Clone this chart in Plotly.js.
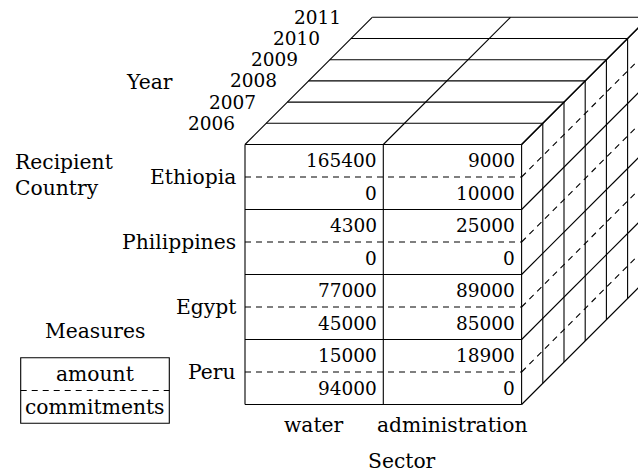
<!DOCTYPE html>
<html><head><meta charset="utf-8">
<script src="https://cdn.plot.ly/plotly-3.0.1.min.js"></script>
<style>html,body{margin:0;padding:0;background:#fff}</style>
</head><body><div id="chart" style="width:638px;height:472px"></div>
<script>
// ---- data ----
const sectors = ['water', 'administration'];
const countries = ['Ethiopia', 'Philippines', 'Egypt', 'Peru'];
const years = ['2006', '2007', '2008', '2009', '2010', '2011'];
const measures = ['amount', 'commitments'];
// front slice (2006) values, one entry per country
const amountWater = [165400, 4300, 77000, 15000];
const amountAdmin = [9000, 25000, 89000, 18900];
const commitmentsWater = [0, 0, 45000, 94000];
const commitmentsAdmin = [10000, 0, 85000, 0];

// ---- layout constants (pixels) ----
const W = 638, H = 472;
const X0 = 245, Y0 = 144.5;     // front top-left corner
const CW = 138.3, RH = 65;      // column width, row height
const DEPTH = 21.2;             // oblique offset per year slice
const DX = DEPTH / CW, DY = -DEPTH / RH;
const FONT = 'DejaVu Serif';
const FS_NUM = 18.5, FS_TXT = 20.3;

const nC = sectors.length, nR = countries.length, nD = years.length;
const P = (c, r, d) => [c + d * DX, r + d * DY];
const pxX = px => (px - X0) / CW;
const pxY = py => (py - Y0) / RH;

function addSeg(arr, a, b) {
  arr.x.push(a[0], b[0], null);
  arr.y.push(a[1], b[1], null);
}
const solid = {x: [], y: []}, dashed = {x: [], y: []};
// front face
for (let r = 0; r <= nR; r++) addSeg(solid, P(0, r, 0), P(nC, r, 0));
for (let c = 0; c <= nC; c++) addSeg(solid, P(c, 0, 0), P(c, nR, 0));
for (let r = 0; r < nR; r++) addSeg(dashed, P(0, r + 0.5, 0), P(nC, r + 0.5, 0));
// top face
for (let d = 1; d <= nD; d++) addSeg(solid, P(0, 0, d), P(nC, 0, d));
for (let c = 0; c <= nC; c++) addSeg(solid, P(c, 0, 0), P(c, 0, nD));
// right face
for (let d = 1; d <= nD; d++) addSeg(solid, P(nC, 0, d), P(nC, nR, d));
for (let r = 0; r <= nR; r++) addSeg(solid, P(nC, r, 0), P(nC, r, nD));
for (let r = 0; r < nR; r++) addSeg(dashed, P(nC, r + 0.5, 0), P(nC, r + 0.5, nD));

const traces = [
  {type: 'scatter', mode: 'lines', x: solid.x, y: solid.y, line: {color: '#000', width: 1.1}, hoverinfo: 'skip'},
  {type: 'scatter', mode: 'lines', x: dashed.x, y: dashed.y, line: {color: '#000', width: 1.1, dash: '6px,5px'}, hoverinfo: 'skip'}
];

const ann = [];
const txt = (x, y, text, xanchor, xshift, yshift, size) => ann.push({
  x, y, text, xref: 'x', yref: 'y', showarrow: false, xanchor: xanchor || 'center', yanchor: 'middle',
  xshift: xshift || 0, yshift: yshift || 0, font: {family: FONT, size: size || FS_TXT, color: '#000'}
});

// cell values (front slice)
const valueCols = [[amountWater, commitmentsWater], [amountAdmin, commitmentsAdmin]];
valueCols.forEach((mv, c) => {
  mv.forEach((vals, m) => {
    vals.forEach((v, r) => {
      const p = P(c + 1, r + 0.25 + 0.5 * m, 0);
      txt(p[0], p[1], String(v), 'right', -4.5, 0, FS_NUM);
    });
  });
});
// countries
countries.forEach((name, r) => { const p = P(0, r + 0.5, 0); txt(p[0], p[1], name, 'right', -7.5, 0); });
// sectors
sectors.forEach((name, c) => { const p = P(c + 0.5, nR, 0); txt(p[0], p[1], name, 'center', 0, -20); });
// years
years.forEach((name, d) => { const p = P(0, 0, d + 1); txt(p[0], p[1], name, 'right', -29.5, 0, FS_NUM); });
// dimension titles
txt(pxX(149.5), pxY(81.5), 'Year');
txt(pxX(13), pxY(162), 'Recipient', 'left');
txt(pxX(13), pxY(188), 'Country', 'left');
txt(pxX(402), pxY(461), 'Sector');
txt(pxX(95), pxY(331), 'Measures');
// measures legend box
const bx0 = 20.7, bx1 = 169.3, by0 = 357.7, by1 = 423.3, bym = 390.5;
txt(pxX((bx0 + bx1) / 2), pxY((by0 + bym) / 2), measures[0]);
txt(pxX((bx0 + bx1) / 2), pxY((bym + by1) / 2), measures[1]);
const shapes = [
  {type: 'rect', xref: 'x', yref: 'y', x0: pxX(bx0), x1: pxX(bx1), y0: pxY(by0), y1: pxY(by1), line: {color: '#000', width: 1.1}},
  {type: 'line', xref: 'x', yref: 'y', x0: pxX(bx0), x1: pxX(bx1), y0: pxY(bym), y1: pxY(bym), line: {color: '#000', width: 1.1, dash: '6px,5px'}}
];

const layout = {
  width: W, height: H, margin: {l: 0, r: 0, t: 0, b: 0, pad: 0},
  paper_bgcolor: '#fff', plot_bgcolor: '#fff', showlegend: false,
  font: {family: FONT},
  xaxis: {range: [pxX(0), pxX(W)], visible: false, fixedrange: true},
  yaxis: {range: [pxY(H), pxY(0)], visible: false, fixedrange: true},
  annotations: ann, shapes: shapes
};
Plotly.newPlot('chart', traces, layout, {staticPlot: true, displayModeBar: false});
</script></body></html>
